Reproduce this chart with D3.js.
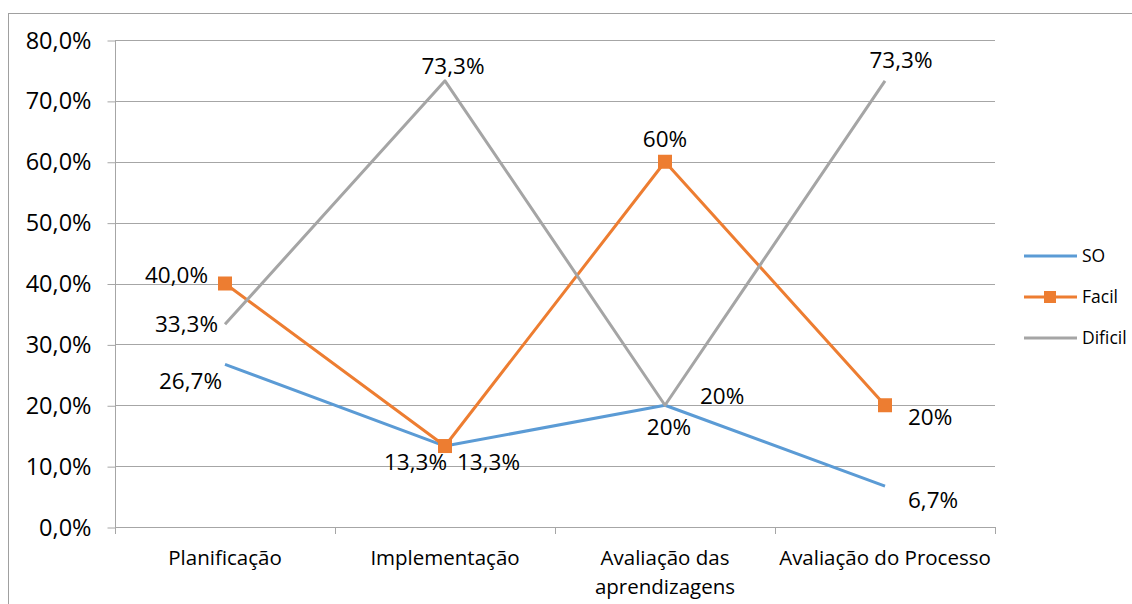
<!DOCTYPE html>
<html>
<head>
<meta charset="utf-8">
<script src="https://cdn.jsdelivr.net/npm/d3@7"></script>
<style>
  html, body { margin: 0; padding: 0; background: #fff; }
  svg { display: block; }
  text { font-family: "Open Sans", "Noto Sans", sans-serif; fill: #000; }
</style>
</head>
<body>
<svg id="chart" width="1132" height="604"></svg>
<script>
// Categories (x axis)
const categories = ["Planificação", "Implementação", "Avaliação das aprendizagens", "Avaliação do Processo"];
// Series values, in percent
const soValues = [26.7, 13.3, 20, 6.7];
const facilValues = [40, 13.3, 60, 20];
const dificilValues = [33.3, 73.3, 20, 73.3];
// Data label texts, as printed on each point
const soLabels = ["26,7%", "13,3%", "20%", "6,7%"];
const facilLabels = ["40,0%", "13,3%", "60%", "20%"];
const dificilLabels = ["33,3%", "73,3%", "20%", "73,3%"];
// Y axis ticks
const yTicks = [0, 10, 20, 30, 40, 50, 60, 70, 80];
const yTickLabels = ["0,0%", "10,0%", "20,0%", "30,0%", "40,0%", "50,0%", "60,0%", "70,0%", "80,0%"];

// Label placement relative to each point: [dx, dy, anchor]
const soPlace = [[-3, 25, "end"], [12, 24, "start"], [4, 30, "middle"], [23, 22, "start"]];
const facilPlace = [[-17, -1, "end"], [2, 24, "end"], [0, -15, "middle"], [23, 20, "start"]];
const dificilPlace = [[-7, 8, "end"], [8, -7, "middle"], [35, -1, "start"], [16, -13, "middle"]];

const series = [
  { name: "SO", values: soValues, labels: soLabels, place: soPlace, color: "#5B9BD5", marker: false },
  { name: "Facil", values: facilValues, labels: facilLabels, place: facilPlace, color: "#ED7D31", marker: true },
  { name: "Dificil", values: dificilValues, labels: dificilLabels, place: dificilPlace, color: "#A5A5A5", marker: false }
];

const svg = d3.select("#chart");
const plot = { left: 115, right: 995, top: 40, bottom: 527 };
const gridColor = "#A6A6A6";

// Outer chart border
svg.append("rect")
  .attr("x", 8.5).attr("y", 13.5)
  .attr("width", 1200).attr("height", 700)
  .attr("fill", "none").attr("stroke", "#A0A0A0").attr("stroke-width", 1);

const x = d3.scaleBand().domain(categories).range([plot.left, plot.right]).padding(0);
const y = d3.scaleLinear().domain([0, 80]).range([plot.bottom, plot.top]);

// Horizontal gridlines
svg.append("g").selectAll("line").data(yTicks.slice(1)).join("line")
  .attr("x1", plot.left).attr("x2", plot.right)
  .attr("y1", d => Math.round(y(d)) + 0.5).attr("y2", d => Math.round(y(d)) + 0.5)
  .attr("stroke", gridColor).attr("stroke-width", 1);

// Y axis
const yAxis = d3.axisLeft(y).tickValues(yTicks)
  .tickFormat((d, i) => yTickLabels[i]).tickSize(8).tickPadding(16);
const gy = svg.append("g").attr("transform", `translate(${plot.left + 0.5},0.5)`).call(yAxis);
gy.select(".domain").attr("stroke", gridColor).attr("d", `M0,${plot.top}V${plot.bottom + 6}`);
gy.selectAll(".tick line").attr("stroke", gridColor);
gy.selectAll(".tick text").attr("font-size", 23.5).attr("font-family", "Open Sans").attr("fill", "#000");

// X axis baseline and boundary tick marks
svg.append("line")
  .attr("x1", plot.left).attr("x2", plot.right)
  .attr("y1", plot.bottom + 0.5).attr("y2", plot.bottom + 0.5)
  .attr("stroke", gridColor);
const bounds = categories.map(c => x(c)).concat([x(categories[categories.length - 1]) + x.bandwidth()]);
svg.append("g").selectAll("line").data(bounds).join("line")
  .attr("x1", d => Math.round(d) + 0.5).attr("x2", d => Math.round(d) + 0.5)
  .attr("y1", plot.bottom).attr("y2", plot.bottom + 7)
  .attr("stroke", gridColor);

// Category labels, wrapped to fit the band
const catG = svg.append("g");
categories.forEach(c => {
  const t = catG.append("text")
    .attr("x", x(c) + x.bandwidth() / 2)
    .attr("y", 565)
    .attr("text-anchor", "middle")
    .attr("font-size", 20.5);
  const lines = c === "Avaliação das aprendizagens" ? ["Avaliação das", "aprendizagens"] : [c];
  lines.forEach((ln, i) => {
    t.append("tspan").attr("x", x(c) + x.bandwidth() / 2).attr("dy", i === 0 ? 0 : 29).text(ln);
  });
});

const cx = c => x(c) + x.bandwidth() / 2;
const line = d3.line().x((d, i) => cx(categories[i])).y(d => y(d));

// Lines
series.forEach(s => {
  svg.append("path")
    .datum(s.values)
    .attr("d", line)
    .attr("fill", "none")
    .attr("stroke", s.color)
    .attr("stroke-width", 3)
    .attr("stroke-linejoin", "round");
});

// Markers
series.filter(s => s.marker).forEach(s => {
  svg.append("g").selectAll("rect").data(s.values).join("rect")
    .attr("x", (d, i) => cx(categories[i]) - 7)
    .attr("y", d => y(d) - 7)
    .attr("width", 14).attr("height", 14)
    .attr("fill", s.color);
});

// Data labels
series.forEach(s => {
  svg.append("g").selectAll("text").data(s.values).join("text")
    .attr("x", (d, i) => cx(categories[i]) + s.place[i][0])
    .attr("y", (d, i) => y(d) + s.place[i][1])
    .attr("text-anchor", (d, i) => s.place[i][2])
    .attr("font-size", 22.5)
    .text((d, i) => s.labels[i]);
});

// Legend
const legend = svg.append("g");
series.forEach((s, i) => {
  const ly = 256 + i * 41;
  legend.append("line")
    .attr("x1", 1024).attr("x2", 1077).attr("y1", ly).attr("y2", ly)
    .attr("stroke", s.color).attr("stroke-width", 3);
  if (s.marker) {
    legend.append("rect").attr("x", 1044).attr("y", ly - 6).attr("width", 12).attr("height", 12).attr("fill", s.color);
  }
  legend.append("text").attr("x", 1082).attr("y", ly).attr("dy", "0.35em")
    .attr("font-size", 17.5).text(s.name);
});
</script>
</body>
</html>
